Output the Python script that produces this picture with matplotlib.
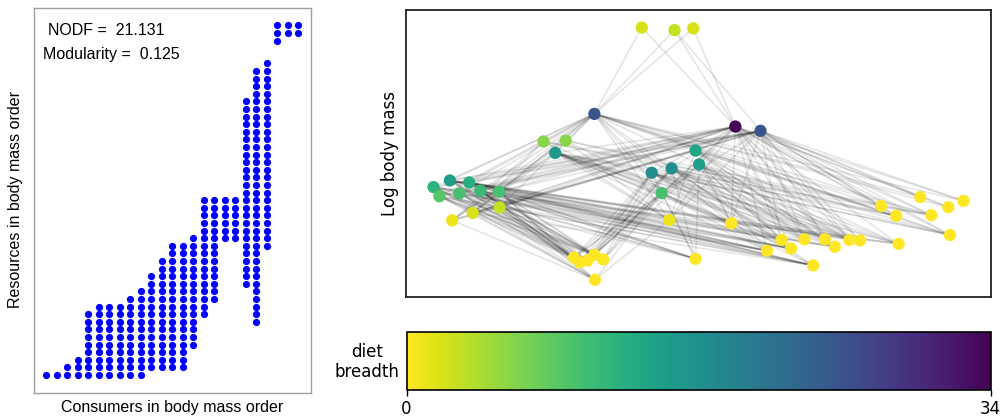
import numpy as np
import matplotlib
matplotlib.use("Agg")
import matplotlib.pyplot as plt

# ---------------- data ----------------
# Interaction matrix: for each consumer (column, ordered by body mass) the
# lowest and highest resource row (ordered by body mass) that it eats.
col_lo = [0, 0, 0, 0, 0, 0, 0, 0, 0, 0, 1, 1, 1, 1, 4, 8, 10, 18, 18, 12, 7, 17, 44, 45, 45]
col_hi = [0, 0, 1, 2, 8, 9, 9, 9, 10, 11, 13, 15, 17, 17, 18, 23, 23, 23, 23, 36, 40, 41, 46, 46, 46]

nodf = 21.131
modularity = 0.125

# Network nodes: layout x position and log body mass (y)
node_x = [4.03, 4.59, 4.91, 3.22, 5.63, 6.06, 2.35, 2.73, 2.55, 4.95,
          5.01, 4.54, 4.20, 4.37, 0.75, 0.47, 1.08, 0.57, 0.91, 1.27,
          1.59, 1.60, 1.14, 0.79, 4.50, 5.56, 8.12, 8.79, 9.53, 8.38,
          9.27, 8.98, 9.30, 8.42, 6.42, 6.81, 7.16, 7.58, 7.76, 7.33,
          6.58, 6.17, 6.96, 4.95, 2.87, 2.97, 3.10, 3.22, 3.37, 3.23]
node_logmass = [9.39, 9.30, 9.36, 6.38, 5.94, 5.79, 5.42, 5.45, 5.02, 5.10,
                4.62, 4.48, 4.33, 3.62, 4.06, 3.83, 3.99, 3.51, 3.61, 3.70,
                3.67, 3.12, 2.93, 2.67, 2.68, 2.57, 3.17, 3.48, 3.35, 2.83,
                3.13, 2.85, 2.16, 1.85, 1.99, 2.01, 2.01, 1.99, 1.97, 1.75,
                1.69, 1.61, 1.10, 1.33, 1.37, 1.21, 1.27, 1.47, 1.31, 0.60]
# node index (0-based) of each consumer column of the matrix
consumer_nodes = [23, 24, 22, 21, 17, 18, 13, 20, 19, 15, 16, 14, 12, 11,
                  10, 8, 9, 6, 7, 5, 4, 3, 1, 2, 0]

cbar_ticks = [0, 34]

# ---------------- derived ----------------
n_cons = len(col_lo)
n_res = max(col_hi) + 1
node_x = np.array(node_x)
node_logmass = np.array(node_logmass)
n_nodes = len(node_x)
resource_nodes = np.argsort(node_logmass, kind="stable")[:n_res]

diet = np.zeros(n_nodes)
mx, my = [], []
edges = []
for j in range(n_cons):
    rows = list(range(col_lo[j], col_hi[j] + 1))
    diet[consumer_nodes[j]] = len(rows)
    for i in rows:
        mx.append(j)
        my.append(i)
        edges.append((consumer_nodes[j], resource_nodes[i]))

# ---------------- figure ----------------
W, H = 1001, 418
fig = plt.figure(figsize=(W / 100, H / 100), dpi=100)

def box(l, t, r, b):
    return [l / W, 1 - b / H, (r - l) / W, (b - t) / H]

left_font = ["Liberation Sans", "DejaVu Sans"]

# Left: interaction matrix
ax1 = fig.add_axes(box(33.5, 8, 311, 392.5))
ax1.scatter(mx, my, s=27, color="#0000ff", linewidths=0)
ax1.set_xlim(-1.2, n_cons - 1 + 1.2)
ax1.set_ylim(-0.05 * (n_res - 1), (n_res - 1) * 1.05)
ax1.set_xticks([])
ax1.set_yticks([])
for sp in ax1.spines.values():
    sp.set_color("#a0a0a0")
    sp.set_linewidth(1.0)
ax1.text(0.053, 0.929, "NODF =  %.3f" % nodf, transform=ax1.transAxes,
         fontsize=11.5, family=left_font, ha="left", va="baseline")
ax1.text(0.033, 0.868, "Modularity =  %.3f" % modularity, transform=ax1.transAxes,
         fontsize=11.5, family=left_font, ha="left", va="baseline")
fig.text(172.25 / W, 1 - 411.7 / H, "Consumers in body mass order",
         fontsize=11.5, family=left_font, ha="center", va="baseline")
fig.text(16 / W, 1 - 200 / H, "Resources in body mass order", rotation=90,
         fontsize=11.5, family=left_font, ha="center", va="center")

# Right: network
ax2 = fig.add_axes(box(406, 10, 991, 297))
for a, b in edges:
    ax2.plot([node_x[a], node_x[b]], [node_logmass[a], node_logmass[b]],
             color="k", alpha=0.1, lw=1.2, zorder=1, solid_capstyle="butt")
sc = ax2.scatter(node_x, node_logmass, c=diet, cmap="viridis_r", vmin=0,
                 vmax=max(cbar_ticks), s=78, linewidths=0, zorder=3)
ax2.set_xlim(0, 10)
ax2.set_ylim(0, 10)
ax2.set_xticks([])
ax2.set_yticks([])
for sp in ax2.spines.values():
    sp.set_color("#222222")
    sp.set_linewidth(1.3)
ax2.set_ylabel("Log body mass", fontsize=12, labelpad=5)

# Colorbar
cax = fig.add_axes(box(406.5, 332, 990.5, 389.5))
cb = fig.colorbar(sc, cax=cax, orientation="horizontal", ticks=cbar_ticks)
cb.ax.tick_params(labelsize=12, length=4, width=1)
cb.outline.set_linewidth(1.2)
fig.text(367 / W, 1 - 362 / H, "diet\nbreadth", fontsize=12,
         ha="center", va="center", multialignment="center")

fig.savefig("out.png", dpi=100)
